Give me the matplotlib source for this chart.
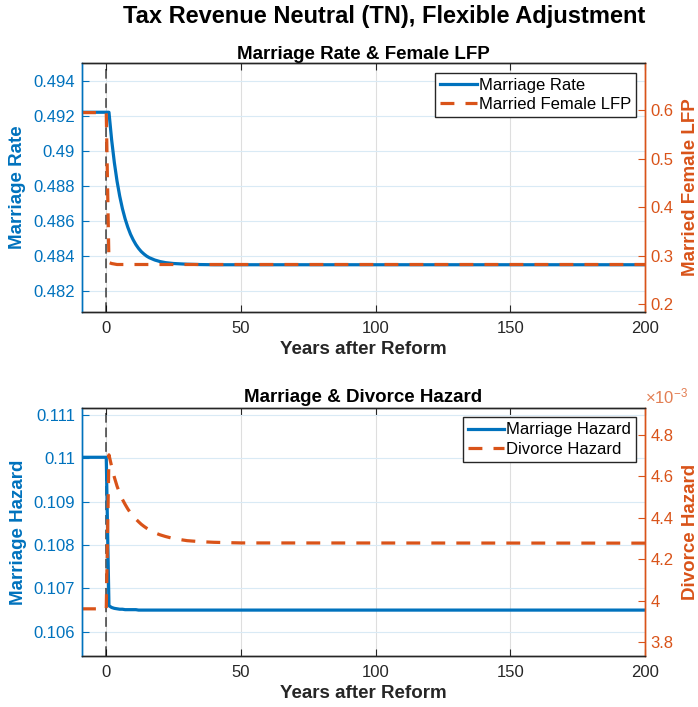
import matplotlib
matplotlib.use('Agg')
import matplotlib.pyplot as plt
from matplotlib.ticker import FuncFormatter, FixedLocator

plt.rcParams['font.family'] = ['Liberation Sans', 'DejaVu Sans']
plt.rcParams['mathtext.fontset'] = 'custom'
plt.rcParams['mathtext.rm'] = 'Liberation Sans'
plt.rcParams['mathtext.default'] = 'regular'
plt.rcParams['lines.scale_dashes'] = False

BLUE = '#0072BD'
ORANGE = '#D95319'
DARK = '#262626'

# transition paths after the reform
years = [-9, 0, 1, 2, 3, 4, 5, 6, 7, 8, 9, 10, 11, 12, 13, 14, 15, 16, 18, 20, 22, 25,
         30, 35, 40, 50, 200]
marriage_rate = [0.49220, 0.49220, 0.49220, 0.49062, 0.48933, 0.48827, 0.48741, 0.48670,
                 0.48612, 0.48564, 0.48524, 0.48492, 0.48465, 0.48443, 0.48425, 0.48411,
                 0.48399, 0.48390, 0.48377, 0.48368, 0.48362, 0.48357, 0.48353, 0.48351,
                 0.48350, 0.48350, 0.48350]
female_lfp = [0.595, 0.595, 0.286, 0.284, 0.283, 0.282, 0.282, 0.282, 0.282, 0.282, 0.282,
              0.282, 0.282, 0.282, 0.282, 0.282, 0.282, 0.282, 0.282, 0.282, 0.282, 0.282,
              0.282, 0.282, 0.282, 0.282, 0.282]
marriage_hazard = [0.11002, 0.11002, 0.10660, 0.10656, 0.10654, 0.10653, 0.10652, 0.10652,
                   0.10651, 0.10651, 0.10651, 0.10651, 0.10651, 0.10650, 0.10650, 0.10650,
                   0.10650, 0.10650, 0.10650, 0.10650, 0.10650, 0.10650, 0.10650, 0.10650,
                   0.10650, 0.10650, 0.10650]
divorce_hazard = [3.961e-3, 3.961e-3, 4.704e-3, 4.648e-3, 4.596e-3, 4.553e-3, 4.518e-3,
                  4.489e-3, 4.465e-3, 4.443e-3, 4.424e-3, 4.408e-3, 4.394e-3, 4.381e-3,
                  4.369e-3, 4.359e-3, 4.350e-3, 4.342e-3, 4.328e-3, 4.318e-3, 4.310e-3,
                  4.300e-3, 4.290e-3, 4.285e-3, 4.282e-3, 4.279e-3, 4.278e-3]

x_ticks = [0, 50, 100, 150, 200]
fmt_g = FuncFormatter(lambda v, p: '{:g}'.format(round(v, 6)))
fmt_milli = FuncFormatter(lambda v, p: '{:g}'.format(round(v * 1e3, 4)))


def style_axes(ax, ax2, left_ticks, right_ticks, left_lim, right_lim):
    ax.set_xlim(-9, 200)
    ax.set_ylim(*left_lim)
    ax2.set_ylim(*right_lim)
    ax.xaxis.set_major_locator(FixedLocator(x_ticks))
    ax.yaxis.set_major_locator(FixedLocator(left_ticks))
    ax2.yaxis.set_major_locator(FixedLocator(right_ticks))
    ax.yaxis.set_major_formatter(fmt_g)

    ax.tick_params(axis='x', direction='in', top=True, colors=DARK, labelsize=12,
                   length=5, width=0.8, pad=7)
    ax.tick_params(axis='y', direction='in', colors=BLUE, labelsize=12,
                   length=5, width=0.8, pad=5)
    ax2.tick_params(axis='y', direction='in', colors=ORANGE, labelsize=12,
                    length=5, width=0.8, pad=4)

    for a in (ax, ax2):
        a.spines['top'].set_color(DARK)
        a.spines['bottom'].set_color(DARK)
        a.spines['left'].set_color(BLUE)
        a.spines['right'].set_color(ORANGE)
        for s in a.spines.values():
            s.set_linewidth(1.0)

    ax.grid(True, axis='y', color='#D9EAF5', linewidth=0.8)
    ax.grid(True, axis='x', color='#DEDEDE', linewidth=0.8)
    ax.set_axisbelow(True)
    ax.axvline(0, color='k', linestyle=(0, (7, 3.5)), linewidth=1.1, alpha=0.75, zorder=1)
    ax.set_xlabel('Years after Reform', fontsize=13.5, fontweight='bold', color=DARK,
                  labelpad=3)


fig = plt.figure(figsize=(6.98, 7.07), dpi=100)
ax_top = fig.add_axes([0.1175, 0.5591, 0.8066, 0.3513])
ax_bot = fig.add_axes([0.1175, 0.0726, 0.8066, 0.3500])

fig.text(0.55, 0.977, 'Tax Revenue Neutral (TN), Flexible Adjustment',
         ha='center', va='center', fontsize=17, fontweight='bold', color='k')

# top panel: marriage rate and married female participation
ax_top2 = ax_top.twinx()
l1, = ax_top.plot(years, marriage_rate, color=BLUE, linewidth=2.3, label='Marriage Rate')
l2, = ax_top2.plot(years, female_lfp, color=ORANGE, linewidth=2.3, dashes=(10, 8),
                   label='Married Female LFP')
style_axes(ax_top, ax_top2,
           [0.482, 0.484, 0.486, 0.488, 0.490, 0.492, 0.494],
           [0.2, 0.3, 0.4, 0.5, 0.6],
           (0.48082, 0.49499), (0.1847, 0.6965))
ax_top.set_ylabel('Marriage Rate', fontsize=13.5, fontweight='bold', color=BLUE, labelpad=5)
ax_top2.set_ylabel('Married Female LFP', fontsize=13.5, fontweight='bold', color=ORANGE,
                   labelpad=6)
ax_top.set_title('Marriage Rate & Female LFP', fontsize=13.5, fontweight='bold', pad=3)
ax_top2.legend(handles=[l1, l2], loc='upper right', fontsize=12, frameon=True, fancybox=False,
               framealpha=1, edgecolor=DARK, handlelength=2.2, handletextpad=0.1,
               borderaxespad=0.55, borderpad=0.3, labelspacing=0.25)

# bottom panel: marriage and divorce hazards
ax_bot2 = ax_bot.twinx()
l3, = ax_bot.plot(years, marriage_hazard, color=BLUE, linewidth=2.3, label='Marriage Hazard')
l4, = ax_bot2.plot(years, divorce_hazard, color=ORANGE, linewidth=2.3, dashes=(10, 8),
                   label='Divorce Hazard')
style_axes(ax_bot, ax_bot2,
           [0.106, 0.107, 0.108, 0.109, 0.110, 0.111],
           [3.8e-3, 4.0e-3, 4.2e-3, 4.4e-3, 4.6e-3, 4.8e-3],
           (0.10545, 0.11115), (3.735e-3, 4.929e-3))
ax_bot2.yaxis.set_major_formatter(fmt_milli)
ax_bot.set_ylabel('Marriage Hazard', fontsize=13.5, fontweight='bold', color=BLUE, labelpad=5)
ax_bot2.set_ylabel('Divorce Hazard', fontsize=13.5, fontweight='bold', color=ORANGE,
                   labelpad=6)
ax_bot.set_title('Marriage & Divorce Hazard', fontsize=13.5, fontweight='bold', pad=4.5)
ax_bot2.text(1.0, 1.008, r'$\times10^{-3}$', transform=ax_bot2.transAxes, ha='left',
             va='bottom', fontsize=12, color=ORANGE, alpha=0.75)
ax_bot2.legend(handles=[l3, l4], loc='upper right', fontsize=12, frameon=True, fancybox=False,
               framealpha=1, edgecolor=DARK, handlelength=2.2, handletextpad=0.1,
               borderaxespad=0.55, borderpad=0.3, labelspacing=0.25)

fig.savefig('out.png', dpi=100)
